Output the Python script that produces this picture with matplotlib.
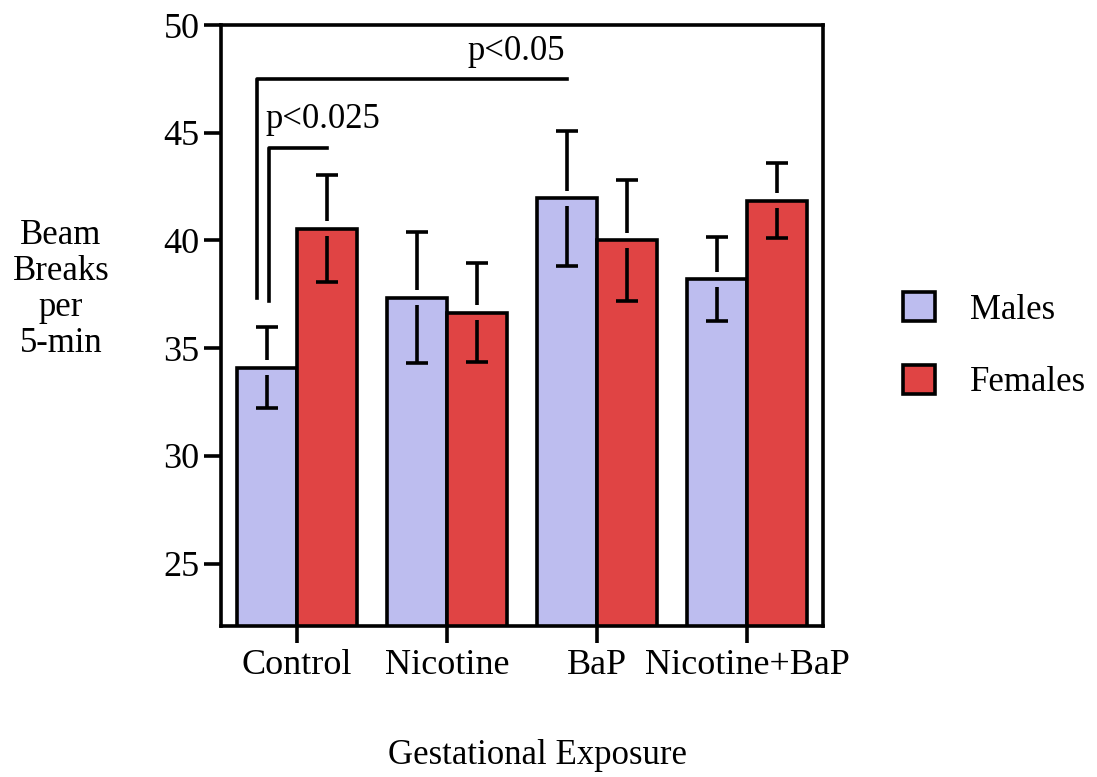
import numpy as np
import matplotlib.pyplot as plt

plt.rcParams['font.family'] = ['Liberation Serif', 'DejaVu Serif']

# data
groups = ['Control', 'Nicotine', 'BaP', 'Nicotine+BaP']
males = [34.1, 37.35, 41.95, 38.2]
males_err = [1.9, 3.05, 3.15, 1.95]
females = [40.55, 36.65, 40.0, 41.85]
females_err = [2.5, 2.3, 2.8, 1.75]

male_color = '#BDBDEF'
female_color = '#E04444'
lw = 2.6

fig = plt.figure(figsize=(10.97, 7.77), dpi=100)
ax = fig.add_axes([0.2015, 0.1943, 0.5487, 0.7735])

x = np.arange(len(groups))
w = 0.4
ax.bar(x - w / 2, males, w, color=male_color, edgecolor='black', linewidth=lw, label='Males', zorder=2)
ax.bar(x + w / 2, females, w, color=female_color, edgecolor='black', linewidth=lw, label='Females', zorder=2)

# error bars with a small gap around the bar top, like the original
gap = 0.35
cap = 0.075
for xs, vals, errs in [(x - w / 2, males, males_err), (x + w / 2, females, females_err)]:
    vals = np.array(vals)
    errs = np.array(errs)
    ax.vlines(xs, vals + gap, vals + errs, color='black', linewidth=lw, zorder=3)
    ax.vlines(xs, vals - errs, vals - gap, color='black', linewidth=lw, zorder=3)
    ax.hlines(vals + errs, xs - cap, xs + cap, color='black', linewidth=lw, zorder=3)
    ax.hlines(vals - errs, xs - cap, xs + cap, color='black', linewidth=lw, zorder=3)

# significance brackets
ax.plot([-0.27, -0.27, 1.8], [37.33, 47.5, 47.5], color='black', linewidth=lw, zorder=3)
ax.text(1.46, 48.0, 'p<0.05', ha='center', va='bottom', fontsize=25)
ax.plot([-0.19, -0.19, 0.2], [37.2, 44.3, 44.3], color='black', linewidth=lw, zorder=3)
ax.text(0.17, 44.85, 'p<0.025', ha='center', va='bottom', fontsize=25)

ax.set_xlim(-0.507, 3.507)
ax.set_ylim(22.1, 50)
ax.set_yticks([25, 30, 35, 40, 45, 50])
ax.set_xticks(x)
ax.set_xticklabels(groups)
ax.tick_params(axis='both', direction='out', length=12.5, width=lw, labelsize=26)
ax.tick_params(axis='y', pad=3)
ax.tick_params(axis='x', pad=4)
for s in ax.spines.values():
    s.set_linewidth(lw)

fig.text(61 / 1097, 1 - 290 / 777, 'Beam\nBreaks\nper\n5-min', ha='center', va='center',
         fontsize=25, linespacing=1.12, multialignment='center')
fig.text(537 / 1097, 1 - 755 / 777, 'Gestational Exposure', ha='center', va='center', fontsize=25)

ax.legend(loc='upper left', bbox_to_anchor=(903 / 1097, 1 - 292 / 777), bbox_transform=fig.transFigure,
          frameon=False, fontsize=25, handlelength=0.92, handleheight=0.92, handletextpad=1.0,
          labelspacing=1.1, borderpad=0, borderaxespad=0)

fig.savefig('out.png', dpi=100)
